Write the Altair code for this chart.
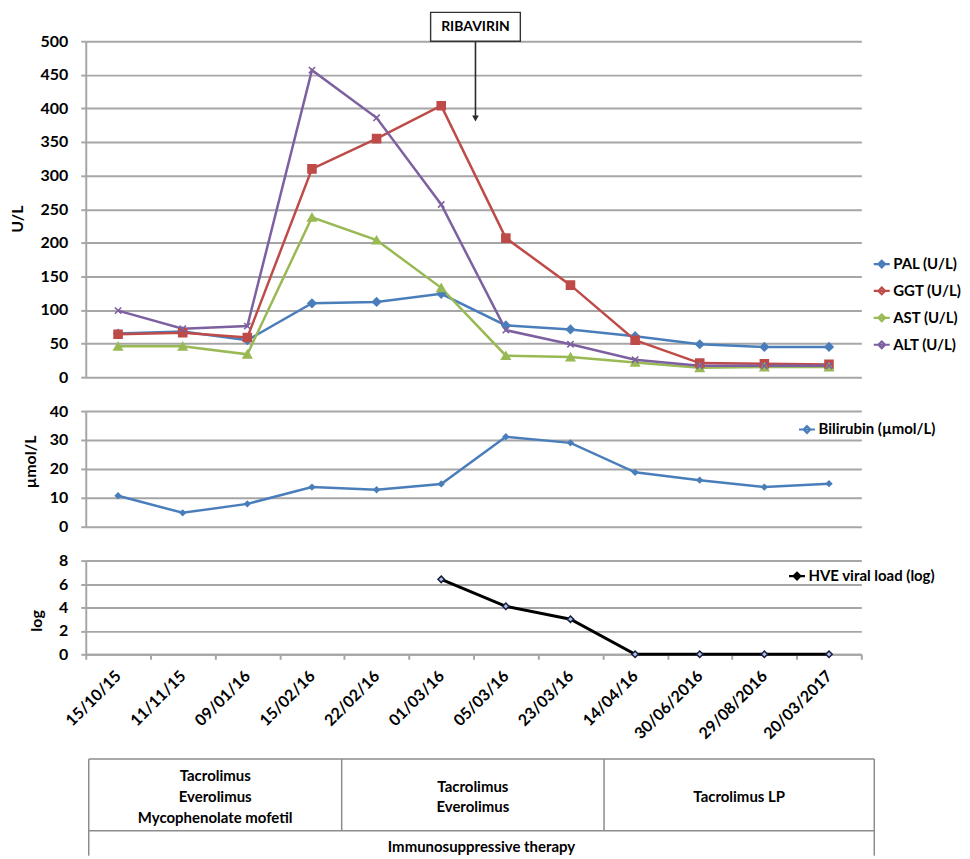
import altair as alt
import pandas as pd

# ---------------- data ----------------
dates = ["15/10/15", "11/11/15", "09/01/16", "15/02/16", "22/02/16", "01/03/16",
         "05/03/16", "23/03/16", "14/04/16", "30/06/2016", "29/08/2016", "20/03/2017"]

series_names = ["PAL (U/L)", "GGT (U/L)", "AST (U/L)", "ALT (U/L)"]
series_colors = ["#4a7ebb", "#be4b48", "#98b954", "#7d60a0"]
series_shapes = ["diamond", "square", "triangle-up", "M-1,-1L1,1M-1,1L1,-1"]
series_sizes = [64, 64, 70, 40]

pal = [65, 68, 55, 110, 112, 124, 77, 71, 61, 49, 45, 45]
ggt = [64, 66, 59, 310, 355, 404, 207, 137, 55, 21, 20, 19]
ast = [46, 46, 34, 238, 204, 133, 32, 30, 22, 14, 15, 15]
alt_ = [99, 72, 76, 457, 386, 257, 70, 49, 26, 17, 17, 17]

bilirubin_name = "Bilirubin (µmol/L)"
bilirubin = [10.7, 4.8, 7.9, 13.7, 12.8, 14.8, 31.1, 29.0, 18.8, 16.1, 13.7, 14.9]

hve_name = "HVE viral load (log)"
hve = [None, None, None, None, None, 6.4, 4.1, 3.0, 0, 0, 0, 0]

top_ticks = [0, 50, 100, 150, 200, 250, 300, 350, 400, 450, 500]
mid_ticks = [0, 10, 20, 30, 40]
bot_ticks = [0, 2, 4, 6, 8]

ribavirin_label = "RIBAVIRIN"
ribavirin_date = "05/03/16"

therapy_cols = [["Tacrolimus", "Everolimus", "Mycophenolate mofetil"],
                ["Tacrolimus", "Everolimus"],
                ["Tacrolimus LP"]]
therapy_footer = "Immunosuppressive therapy"
# table column edges (percent of table width)
table_edges = [0, 32.2, 65.6, 100]

# ---------------- styling ----------------
FONT = "Lato"
GRID = "#a6a6a6"
W = 778
NOVIEW = alt.ViewBackground(stroke="transparent", strokeWidth=0, fill="transparent")

top_df = pd.DataFrame({
    "date": dates * 4,
    "series": sum([[s] * len(dates) for s in series_names], []),
    "value": pal + ggt + ast + alt_,
})
mid_df = pd.DataFrame({"date": dates, "series": bilirubin_name, "value": bilirubin})
bot_df = pd.DataFrame({"date": dates, "series": hve_name, "value": hve})

xscale = alt.Scale(type="band", domain=dates, paddingInner=0, paddingOuter=0)
x_noaxis = alt.X("date:N", sort=dates, scale=xscale, axis=None)

legend_symbol = "M-1,0L1,0M0,-0.42L0.42,0L0,0.42L-0.42,0Z"


def yaxis(title, values, tx, ty):
    return alt.Axis(
        title=title, values=values, grid=True, gridColor=GRID, gridWidth=2,
        domain=True, domainColor=GRID, domainWidth=2,
        ticks=True, tickColor=GRID, tickSize=5, tickWidth=2,
        labelFont=FONT, labelFontSize=16, labelFontWeight="bold", labelColor="black",
        labelPadding=13, labelOverlap=False,
        titleFont=FONT, titleFontSize=16, titleFontWeight="bold", titleColor="black",
        titleAngle=270, titleX=tx, titleY=ty, titleAlign="center", titleBaseline="middle",
    )


def legend(x, y, pad=9):
    return alt.Legend(
        title=None, orient="none", legendX=x, legendY=y, padding=0,
        symbolType=legend_symbol, symbolSize=256, symbolStrokeWidth=2.2,
        labelFont=FONT, labelFontSize=15, labelFontWeight="bold", labelColor="black",
        labelOffset=2, rowPadding=pad,
    )


# ---------------- top panel ----------------
TOP_H = 337
top_yscale = alt.Scale(domain=[0, 500], nice=False)
top_axis = yaxis("U/L", top_ticks, -68.5, 178)


def ytop(field):
    return alt.Y(field, type="quantitative", scale=top_yscale, axis=top_axis)


top_base = alt.Chart(top_df)
top_lines = top_base.mark_line(strokeWidth=2.5).encode(
    x=x_noaxis, y=ytop("value"),
    color=alt.Color("series:N", sort=series_names,
                    scale=alt.Scale(domain=series_names, range=series_colors),
                    legend=legend(789, 214)),
)
top_layers = [top_lines]
for name, col, shp, sz in zip(series_names, series_colors, series_shapes, series_sizes):
    top_layers.append(
        top_base.transform_filter(alt.datum.series == name)
        .mark_point(shape=shp, size=sz, fill=col, stroke=col, strokeWidth=1.6,
                    filled=True, opacity=1)
        .encode(x=x_noaxis, y=ytop("value"))
    )

rib_df = pd.DataFrame({"date": [ribavirin_date], "label": [ribavirin_label],
                       "box": [521.5], "top": [500.0], "tip": [385.0]})
x_rib = alt.X("date:N", sort=dates, scale=xscale, axis=None, bandPosition=0.03)
rib_base = alt.Chart(rib_df)
rib_rule = rib_base.mark_rule(color="#2b2b2b", strokeWidth=1.6).encode(
    x=x_rib, y=ytop("top"), y2="tip:Q")
rib_head = rib_base.mark_point(shape="triangle-down", filled=True, color="#2b2b2b",
                               size=45, opacity=1).encode(x=x_rib, y=ytop("tip"))
rib_box = rib_base.mark_point(shape="M-1,-0.3222L1,-0.3222L1,0.3222L-1,0.3222Z",
                              size=8100, fill="white", stroke="#333333", strokeWidth=1.4,
                              opacity=1, filled=False).encode(x=x_rib, y=ytop("box"))
rib_text = rib_base.mark_text(font=FONT, fontSize=14, fontWeight="bold", color="black",
                              align="center", baseline="middle").encode(
    x=x_rib, y=ytop("box"), text="label:N")

top = alt.layer(*top_layers, rib_rule, rib_head, rib_box, rib_text).properties(
    width=W, height=TOP_H, view=NOVIEW)

# ---------------- middle panel ----------------
MID_H = 116
ymid = alt.Y("value:Q", scale=alt.Scale(domain=[0, 40], nice=False),
             axis=yaxis("µmol/L", mid_ticks, -55.5, 50.5))
mid_base = alt.Chart(mid_df)
mid_line = mid_base.mark_line(strokeWidth=2.5).encode(
    x=x_noaxis, y=ymid,
    color=alt.Color("series:N", scale=alt.Scale(domain=[bilirubin_name], range=["#4a7ebb"]),
                    legend=legend(714, 9)),
)
mid_pts = mid_base.mark_point(shape="diamond", filled=True, size=55, color="#4a7ebb",
                              opacity=1).encode(x=x_noaxis, y=ymid)
mid = alt.layer(mid_line, mid_pts).properties(width=W, height=MID_H, view=NOVIEW)

# ---------------- bottom panel ----------------
BOT_H = 94
x_bot = alt.X("date:N", sort=dates, scale=xscale, axis=alt.Axis(
    title=None, grid=False, domain=True, domainColor=GRID, domainWidth=2,
    ticks=True, tickBand="extent", tickColor=GRID, tickSize=5, tickWidth=2,
    labelAngle=315, labelAlign="right", labelBaseline="middle", labelPadding=14,
    labelFont=FONT, labelFontSize=16, labelFontWeight="bold", labelColor="black",
    labelOverlap=False))
ybot = alt.Y("value:Q", scale=alt.Scale(domain=[0, 8], nice=False),
             axis=yaxis("log", bot_ticks, -49.5, 60))
bot_base = alt.Chart(bot_df)
bot_line = bot_base.mark_line(strokeWidth=3).encode(
    x=x_bot, y=ybot,
    color=alt.Color("series:N", scale=alt.Scale(domain=[hve_name], range=["#000000"]),
                    legend=legend(704, 6)),
)
bot_pts = bot_base.mark_point(shape="diamond", filled=True, size=42, fill="#a9c4eb",
                              stroke="#1b1b3a", strokeWidth=1.5, opacity=1).encode(x=x_bot, y=ybot)
bot = alt.layer(bot_line, bot_pts).properties(width=W, height=BOT_H, view=NOVIEW)

# ---------------- therapy table ----------------
TAB_W = 791
TAB_H = 168
ROW_PX = 72.0
xt = alt.Scale(domain=[-0.38, 100], nice=False, zero=False)
yt = alt.Scale(domain=[-0.986, 1.347], nice=False, zero=False, reverse=True)

segs = []
for yy in [0, 1]:
    segs.append({"x": table_edges[0], "x2": table_edges[-1], "y": yy, "y2": yy})
for i, e in enumerate(table_edges):
    outer = i == 0 or i == len(table_edges) - 1
    segs.append({"x": e, "x2": e, "y": 0, "y2": 1.347 if outer else 1})
seg_df = pd.DataFrame(segs)

line_h = 21.0 / ROW_PX
cell_rows = []
for i, lines in enumerate(therapy_cols):
    cx = (table_edges[i] + table_edges[i + 1]) / 2
    n = len(lines)
    for k, txt in enumerate(lines):
        cell_rows.append({"label": txt, "x": cx, "y": 0.53 + (k - (n - 1) / 2) * line_h})
cell_rows.append({"label": therapy_footer, "x": 50, "y": 1.22})
cells_df = pd.DataFrame(cell_rows)

tab_lines = alt.Chart(seg_df).mark_rule(color="#8c8c8c", strokeWidth=1.5).encode(
    x=alt.X("x:Q", scale=xt, axis=None), x2="x2:Q",
    y=alt.Y("y:Q", scale=yt, axis=None), y2="y2:Q")
tab_text = alt.Chart(cells_df).mark_text(font=FONT, fontSize=15, fontWeight="bold",
                                         color="black", align="center",
                                         baseline="middle").encode(
    x=alt.X("x:Q", scale=xt, axis=None), y=alt.Y("y:Q", scale=yt, axis=None),
    text="label:N")
table = alt.layer(tab_lines, tab_text).properties(width=TAB_W, height=TAB_H, view=NOVIEW)

# ---------------- compose ----------------
chart = alt.vconcat(top, mid, bot, table, spacing=34, bounds="flush").resolve_scale(
    x="independent", y="independent", color="independent",
).resolve_legend(color="independent").properties(
    padding={"left": 1, "top": 0, "right": 0, "bottom": 0},
    background="white",
).configure_view(strokeWidth=0, stroke="transparent").configure(font=FONT)

chart.save("out.html", embed_options={"renderer": "svg", "actions": False})
